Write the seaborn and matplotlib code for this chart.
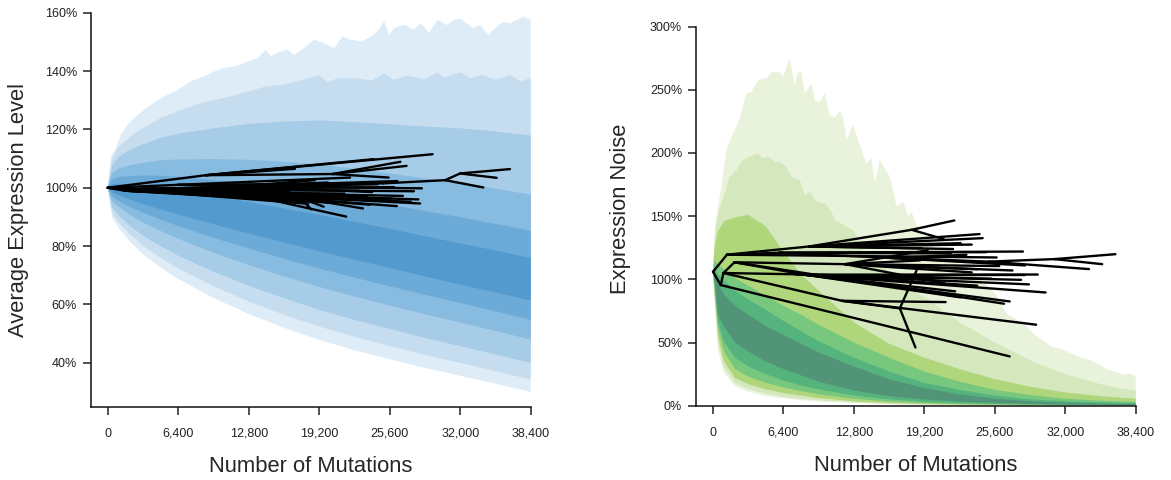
import numpy as np
import pandas as pd
import matplotlib
matplotlib.use("Agg")
import matplotlib.pyplot as plt
import seaborn as sns

# ---------------- data: expression level (left) ----------------
level_x = [0, 400, 1000, 2000, 3200, 4800, 6400, 9600, 12800, 16000, 19200,
           22400, 25600, 28800, 32000, 35200, 38400]
level_top_x = [0, 300, 605, 1209, 1814, 2721, 3930, 5139, 6348, 7558, 8767, 9674,
               10580, 11487, 12394, 13603, 14359, 14812, 15720, 16324, 16929,
               17836, 18743, 19650, 20556, 21312, 22068, 22975, 23730, 24486,
               25091, 25545, 25998, 26905, 27812, 28417, 29173, 29929, 30777,
               31381, 31986, 32590, 33195, 33800, 34555, 35160, 35916, 36520,
               37125, 37729, 38400]
level_q975 = [100, 111.0, 112.5, 118.2, 121.6, 125.0, 128.5, 131.3, 133.6, 136.5,
              138.2, 139.9, 141.1, 141.6, 142.8, 144.5, 147.4, 145.1, 146.8, 147.4,
              145.6, 147.9, 150.8, 149.6, 147.9, 151.9, 150.8, 150.2, 151.4, 153.6,
              157.1, 152.5, 154.8, 155.9, 154.2, 156.5, 153.1, 157.6, 155.8, 157.5,
              158.1, 156.4, 154.7, 155.8, 152.4, 154.7, 156.9, 156.4, 157.5, 158.7,
              157.5]
level_q95_x = [0, 400, 1000, 2000, 3200, 4800, 6400, 8000, 9600, 11200, 12800,
               14400, 16000, 17600, 19200, 20000, 20800, 22400, 24000, 25100,
               26000, 27200, 28800, 29900, 30600, 31400, 32000, 33000, 34000,
               35200, 36500, 37500, 38400]
level_q95 = [100, 110.0, 114.1, 117.4, 120.5, 123.9, 126.3, 128.5, 130.0, 131.4,
             133.1, 134.8, 135.4, 136.9, 138.6, 136.2, 137.5, 137.6, 136.8, 139.2,
             137.0, 138.4, 137.2, 139.4, 137.8, 138.9, 139.6, 137.5, 138.8, 137.0,
             138.7, 136.5, 137.7]
level_q90 = [100, 107.7, 110.6, 112.9, 114.9, 117.1, 118.5, 120.4, 121.9, 122.7,
             123.1, 122.5, 121.8, 121.0, 120.4, 119.3, 117.9]
level_q80 = [100, 104.9, 106.6, 107.7, 108.5, 109.4, 109.7, 109.8, 109.6, 108.9,
             108.0, 106.5, 104.9, 103.2, 101.6, 99.7, 97.6]
level_q70 = [100, 102.9, 103.7, 104.0, 104.2, 104.1, 103.8, 102.7, 101.5, 99.9,
             98.3, 96.2, 94.2, 92.0, 89.9, 87.6, 85.2]
level_q60 = [100, 101.2, 101.4, 101.0, 100.5, 99.8, 99.0, 97.0, 95.1, 92.9,
             90.7, 88.3, 85.9, 83.4, 80.9, 78.5, 75.9]
level_q40 = [100, 98.4, 97.4, 96.0, 94.4, 92.6, 90.8, 87.5, 84.3, 81.2,
             78.2, 75.3, 72.5, 69.6, 66.8, 64.1, 61.3]
level_q30 = [100, 97.0, 95.5, 93.5, 91.5, 89.1, 86.9, 82.8, 79.2, 75.6,
             72.3, 69.2, 66.2, 63.3, 60.5, 57.6, 54.7]
level_q20 = [100, 95.4, 93.4, 90.7, 88.1, 85.2, 82.5, 77.7, 73.5, 69.6,
             66.0, 62.7, 59.6, 56.6, 53.8, 50.9, 47.9]
level_q10 = [100, 93.3, 90.5, 87.0, 83.6, 80.0, 76.7, 71.2, 66.4, 62.1,
             58.1, 54.7, 51.6, 48.5, 45.7, 42.8, 39.9]
level_q05 = [100, 91.5, 88.1, 84.1, 80.1, 76.0, 72.3, 66.2, 61.0, 56.4,
             52.4, 48.9, 45.7, 42.7, 39.9, 37.1, 34.2]
level_q025 = [100, 90.0, 86.1, 81.6, 77.2, 72.7, 68.7, 62.2, 56.7, 52.0,
              47.8, 44.3, 41.2, 38.2, 35.5, 32.8, 30.0]

# lineage tree (node: mutations, level %, parent index)
level_tree_m = [0, 8900, 29490, 24150, 20400, 26570, 27130, 25500, 6400, 25030,
                30630, 31990, 36520, 35310, 34100, 22000, 12000, 28520, 24000,
                20000, 1500, 11000, 28200, 28360, 26250, 17500, 23170, 19600,
                18470, 14000, 21650, 25440, 22500, 19000, 17000, 3000, 21000,
                26000, 16500, 14500,
                27500, 23500, 20500, 26800, 24500, 27800, 22800, 4500, 19800,
                25800, 21500, 18200, 23800, 26300, 18800, 17000]
level_tree_v = [100, 104.3, 111.5, 109.8, 104.7, 108.9, 107.5, 103.5, 101.0, 101.5,
                102.6, 104.9, 106.4, 103.4, 100.1, 103.5, 100.5, 99.8, 98.5,
                101.8, 99.0, 98.0, 96.0, 94.6, 93.7, 96.5, 92.9, 93.5,
                92.6, 96.5, 90.1, 95.8, 97.5, 99.5, 97.8, 99.6, 100.7,
                100.2, 98.5, 100.4,
                95.2, 96.8, 94.8, 97.2, 101.2, 98.8, 99.0, 98.6, 95.8,
                96.3, 98.0, 94.5, 94.2, 102.3, 102.6, 106.5]
level_tree_parent = [-1, 0, 1, 1, 1, 4, 4, 4, 0, 8,
                     9, 10, 11, 11, 10, 8, 8, 16, 16,
                     16, 0, 20, 21, 21, 21, 21, 25, 25,
                     25, 20, 29, 29, 29, 20, 20, 0, 35,
                     35, 35, 35,
                     20, 20, 20, 20, 35, 35, 35, 0, 47,
                     47, 47, 47, 21, 16, 16, 1]

# ---------------- data: expression noise (right) ----------------
noise_x = [0, 150, 450, 1000, 2000, 3200, 4800, 6400, 8000, 9600, 12800, 16000,
           19200, 22400, 25600, 28800, 32000, 35200, 38400]
noise_top_x = [0, 150, 455, 758, 1212, 1818, 2424, 3031, 3485, 4091, 4849, 5303,
               6061, 6364, 6970, 7424, 7727, 8030, 8333, 8939, 9242, 9697, 10151,
               10606, 11061, 11515, 11818, 12121, 12727, 13333, 13939, 14394,
               14697, 15152, 15606, 16061, 16364, 16667, 17273, 17727, 18030,
               18740, 19600, 20450, 21300, 22160, 23000, 23880, 24700, 25590,
               26620, 27640, 28300, 29010, 29900, 30730, 31600, 32440, 33300,
               34150, 35000, 35870, 36600, 37240, 37900, 38400]
noise_q975 = [106, 140, 157.4, 173.2, 202.2, 215.4, 227.2, 247.0, 248.4, 257.6,
              259.0, 263.8, 263.8, 260.3, 274.8, 253.7, 264.3, 264.3, 247.0, 255.4,
              241.7, 240.4, 247.0, 229.9, 228.0, 233.3, 228.6, 210.1, 221.9, 206.2,
              191.7, 195.7, 175.9, 194.4, 187.8, 181.2, 170.6, 157.4, 161.4, 149.5,
              153.5, 136.6, 132.0, 120.7, 118.5, 112.8, 108.0, 102.3, 97.5, 89.1,
              73.3, 68.0, 64.5, 57.5, 52.0, 46.9, 45.0, 41.7, 38.5, 36.4, 33.0,
              28.5, 27.0, 24.5, 25.5, 23.2]
noise_q95_x = [0, 150, 450, 1064, 1515, 2121, 2727, 3333, 4091, 4545, 5000, 5606,
               6061, 6667, 7121, 7879, 8333, 8788, 9394, 10151, 10758, 11061,
               12730, 13940, 15000, 16000, 17000, 17800, 18700, 19600, 20800,
               22400, 24000, 25600, 27200, 28800, 30400, 32000, 33600, 35200,
               36800, 38400]
noise_q95 = [106, 132, 152, 168.0, 181.2, 186.4, 194.4, 197.0, 199.6, 195.7,
             197.0, 193.0, 193.0, 189.1, 181.2, 178.6, 166.7, 169.3, 161.4, 160.1,
             153.5, 146.9, 139.0, 117.8, 114.0, 105.0, 99.0, 94.0, 88.0, 84.0,
             76.0, 66.0, 58.0, 50.0, 43.0, 36.0, 30.0, 25.0, 21.0, 17.0, 14.0,
             12.0]
noise_q90 = [106, 125, 138, 146, 149, 151, 142, 122, 104, 91, 66, 49,
             38, 29, 21, 15, 10.5, 7.5, 5.5]
noise_q80 = [106, 115, 112, 108, 101, 95, 87, 79, 72, 64, 50, 38,
             27, 19, 12.5, 8.5, 5.5, 4.0, 3.0]
noise_q70 = [106, 110, 104, 99, 91, 84, 76, 67, 59, 51, 38, 27,
             18, 12.5, 8.0, 5.0, 3.5, 2.5, 2.0]
noise_q60 = [106, 106, 96, 88, 79, 72, 63, 56, 49, 42, 31, 21,
             14, 9.0, 5.5, 3.5, 2.3, 1.7, 1.3]
noise_q40 = [106, 100, 72, 63, 50, 43, 35, 29, 24, 19, 12, 7.5,
             5.0, 3.2, 2.2, 1.5, 1.0, 0.8, 0.6]
noise_q30 = [106, 96, 67, 51, 38, 31, 25, 20, 16, 13, 8.0, 5.0,
             3.0, 2.0, 1.4, 1.0, 0.7, 0.5, 0.4]
noise_q20 = [106, 92, 62, 43, 29, 23, 18, 14.5, 11.5, 9.0, 5.5, 3.3,
             2.0, 1.3, 0.9, 0.6, 0.4, 0.3, 0.2]
noise_q10 = [106, 88, 55, 35, 22, 17, 13, 10, 8.0, 6.0, 3.5, 2.0,
             1.3, 0.8, 0.5, 0.3, 0.2, 0.15, 0.1]
noise_q05 = [106, 86, 50, 30, 18, 13, 9.5, 7.0, 5.5, 4.2, 2.5, 1.4,
             0.8, 0.5, 0.3, 0.2, 0.1, 0.1, 0.05]
noise_q025 = [106, 84, 44, 26, 15.5, 11, 7.5, 5.8, 4.3, 3.3, 2.2, 1.2,
              0.7, 0.4, 0.25, 0.15, 0.1, 0.05, 0.03]

noise_tree_m = [0, 1270, 700, 950, 1950, 26950, 11710, 29350, 21130, 16970,
                18390, 18490, 8730, 18050, 21920, 24210, 24490, 20960, 22500,
                6000, 16000, 25000, 31000, 36550, 35350, 34150, 23020, 28330,
                25760, 8390, 28330, 27980, 30210, 26440, 22500, 28150, 26950,
                12000, 24000, 21000, 19500,
                19000, 23500, 21800, 26000, 23500, 27200, 18800, 21600, 24800,
                24000, 22000, 29500, 22700, 26300, 7500, 20000, 25300, 28700]
noise_tree_v = [106, 119.5, 95.5, 105, 113.5, 39, 83, 64.1, 82, 77,
                46.1, 107, 126, 139.2, 146.6, 135.8, 132.6, 131.8, 128.6,
                121, 117, 114, 116, 119.9, 112, 108.1, 119.4, 111,
                117.3, 103.6, 103.6, 99.6, 89.6, 80.7, 85.7, 122, 82.5,
                112, 108, 97, 123,
                124.5, 127.5, 124.0, 110.5, 105.5, 107.0, 115.0, 120.5, 121.5,
                95.0, 90.5, 103.8, 118.0, 113.0, 104.0, 101.0, 100.5, 96.0]
noise_tree_parent = [-1, 0, 0, 2, 3, 2, 3, 6, 6, 6,
                     9, 9, 1, 12, 13, 12, 12, 13, 12,
                     1, 19, 20, 21, 22, 22, 21, 20, 20,
                     1, 4, 29, 29, 29, 4, 29, 19, 29,
                     4, 37, 37, 37,
                     12, 12, 12, 37, 37, 37, 37, 19, 19,
                     29, 29, 29, 20, 20, 3, 55, 55, 55]

x_ticks = [0, 6400, 12800, 19200, 25600, 32000, 38400]
level_ticks = [40, 60, 80, 100, 120, 140, 160]
noise_ticks = [0, 50, 100, 150, 200, 250, 300]

blues = ["#deecf7", "#c6ddf0", "#a6cce8", "#88bbe0", "#6caad8", "#539bce"]
greens = ["#e9f2da", "#d5e8bd", "#afd67a", "#77c77f", "#55b37e", "#519478"]

# ---------------- style ----------------
sns.set_theme(style="ticks")
plt.rcParams["font.family"] = ["Liberation Sans", "DejaVu Sans"]
plt.rcParams.update({
    "axes.linewidth": 1.1,
    "xtick.major.size": 6,
    "ytick.major.size": 6,
    "xtick.major.width": 1.1,
    "ytick.major.width": 1.1,
    "xtick.labelsize": 9,
    "ytick.labelsize": 9,
    "xtick.color": "#222222",
    "ytick.color": "#222222",
    "axes.edgecolor": "#111111",
})

fig = plt.figure(figsize=(11.71, 4.8), dpi=100)
ax1 = fig.add_axes([0.0775, 0.1527, 0.3757, 0.8206])
ax2 = fig.add_axes([0.5944, 0.1548, 0.3755, 0.7898])


def draw_fan(ax, bands, colors):
    """Nested quantile bands, outermost first: (upper_x, upper, lower_x, lower)."""
    for i, ((ux, up, lx, lo), col) in enumerate(zip(bands, colors)):
        px = list(ux) + list(lx[::-1])
        py = list(up) + list(lo[::-1])
        ax.fill(px, py, color=col, lw=0, zorder=1 + i * 0.01)


def tree_frame(ms, vs, parents):
    rows = []
    for i, p in enumerate(parents):
        if p < 0:
            continue
        rows.append({"seg": i, "m": ms[p], "v": vs[p]})
        rows.append({"seg": i, "m": ms[i], "v": vs[i]})
    return pd.DataFrame(rows)


level_bands = [(level_top_x, level_q975, level_x, level_q025),
               (level_q95_x, level_q95, level_x, level_q05),
               (level_x, level_q90, level_x, level_q10),
               (level_x, level_q80, level_x, level_q20),
               (level_x, level_q70, level_x, level_q30),
               (level_x, level_q60, level_x, level_q40)]
noise_bands = [(noise_top_x, noise_q975, noise_x, noise_q025),
               (noise_q95_x, noise_q95, noise_x, noise_q05),
               (noise_x, noise_q90, noise_x, noise_q10),
               (noise_x, noise_q80, noise_x, noise_q20),
               (noise_x, noise_q70, noise_x, noise_q30),
               (noise_x, noise_q60, noise_x, noise_q40)]

draw_fan(ax1, level_bands, blues)
draw_fan(ax2, noise_bands, greens)

for ax, ms, vs, ps in [(ax1, level_tree_m, level_tree_v, level_tree_parent),
                       (ax2, noise_tree_m, noise_tree_v, noise_tree_parent)]:
    df = tree_frame(ms, vs, ps)
    sns.lineplot(data=df, x="m", y="v", units="seg", estimator=None, sort=False,
                 color="black", lw=1.7, ax=ax, zorder=5, legend=False)
    ax.set_xlim(-1540, 38400)
    ax.set_xticks(x_ticks)
    ax.set_xticklabels([f"{t:,}" for t in x_ticks])
    ax.tick_params(axis="x", pad=9)
    ax.tick_params(axis="y", pad=4)
    sns.despine(ax=ax)
    ax.set_xlabel("Number of Mutations", fontsize=15.8, labelpad=12)

ax1.set_ylim(24.9, 160)
ax1.set_yticks(level_ticks)
ax1.set_yticklabels([f"{t}%" for t in level_ticks])
ax1.set_ylabel("Average Expression Level", fontsize=15.8, labelpad=11)

ax2.set_ylim(0, 300)
ax2.set_yticks(noise_ticks)
ax2.set_yticklabels([f"{t}%" for t in noise_ticks])
ax2.set_ylabel("Expression Noise", fontsize=15.8, labelpad=11)
ax2.yaxis.set_label_coords(-0.148, 0.52)

fig.savefig("out.png", dpi=100)
